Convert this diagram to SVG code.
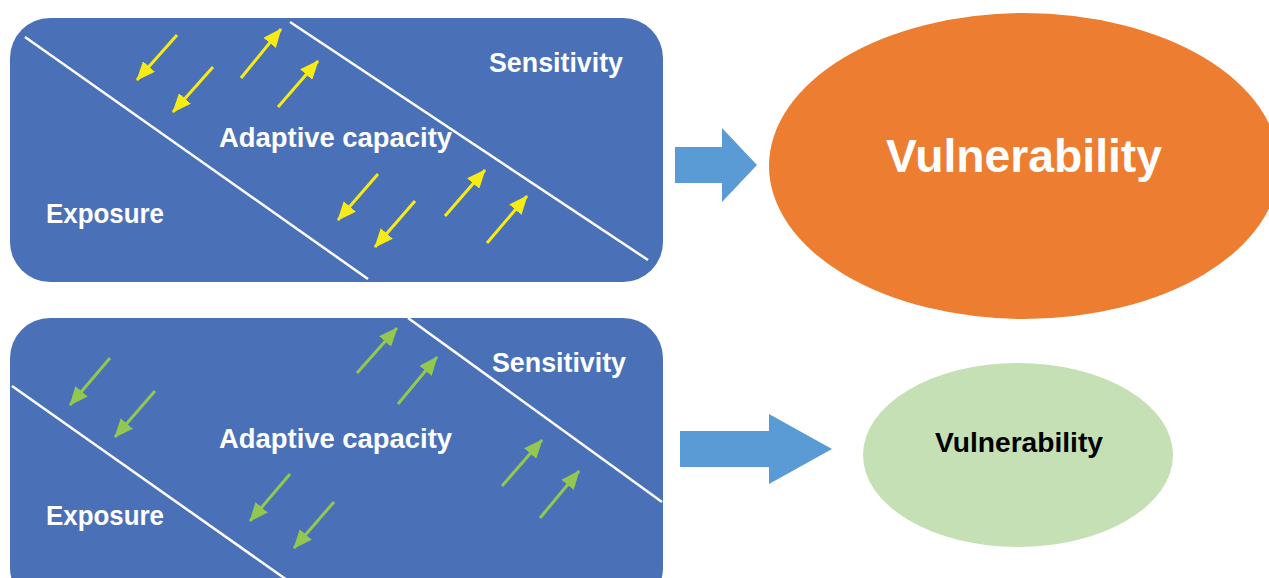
<svg xmlns="http://www.w3.org/2000/svg" width="1269" height="578" viewBox="0 0 1269 578">
<style>
.box{fill:#4A71B8}
.div{stroke:#FFFFFF;stroke-width:2.5;fill:none}
.ya{stroke:#F7EB15;stroke-width:3;marker-end:url(#hy)}
.ga{stroke:#92C84F;stroke-width:3;marker-end:url(#hg)}
.lbl{font-family:"Liberation Sans",Arial,sans-serif;font-weight:bold;fill:#FFFFFF;font-size:27px}
.big{font-family:"Liberation Sans",Arial,sans-serif;font-weight:bold}
.blk{fill:#5B9BD5}
</style>
<defs>
<marker id="hy" markerUnits="userSpaceOnUse" markerWidth="20" markerHeight="16" refX="18" refY="8" orient="auto" viewBox="0 0 20 16">
<path d="M0,0 L19,8 L0,16 z" fill="#F7EB15"/>
</marker>
<marker id="hg" markerUnits="userSpaceOnUse" markerWidth="20" markerHeight="16" refX="18" refY="8" orient="auto" viewBox="0 0 20 16">
<path d="M0,0 L19,8 L0,16 z" fill="#92C84F"/>
</marker>
</defs>

<g id="top-box">
<rect class="box" x="10" y="18" width="653" height="264" rx="40" ry="40"/>
<line class="div" x1="25" y1="37" x2="368" y2="279"/>
<line class="div" x1="290" y1="22" x2="648" y2="260"/>
<text class="lbl" x="489" y="72" textLength="134" lengthAdjust="spacingAndGlyphs">Sensitivity</text>
<text class="lbl" x="219" y="147" textLength="233" lengthAdjust="spacingAndGlyphs">Adaptive capacity</text>
<text class="lbl" x="46" y="223" textLength="118" lengthAdjust="spacingAndGlyphs">Exposure</text>
<line class="ya" x1="177" y1="35" x2="137" y2="80"/>
<line class="ya" x1="213" y1="67" x2="173" y2="112"/>
<line class="ya" x1="241" y1="78" x2="281" y2="29"/>
<line class="ya" x1="278" y1="107" x2="318" y2="61"/>
<line class="ya" x1="378" y1="174" x2="338" y2="220"/>
<line class="ya" x1="415" y1="201" x2="375" y2="247"/>
<line class="ya" x1="445" y1="216" x2="485" y2="170"/>
<line class="ya" x1="487" y1="243" x2="527" y2="196"/>
</g>

<g id="bottom-box">
<rect class="box" x="10" y="318" width="653" height="290" rx="40" ry="40"/>
<line class="div" x1="12" y1="386" x2="287" y2="580"/>
<line class="div" x1="408" y1="318" x2="662" y2="502"/>
<text class="lbl" x="492" y="372" textLength="134" lengthAdjust="spacingAndGlyphs">Sensitivity</text>
<text class="lbl" x="219" y="448" textLength="233" lengthAdjust="spacingAndGlyphs">Adaptive capacity</text>
<text class="lbl" x="46" y="525" textLength="118" lengthAdjust="spacingAndGlyphs">Exposure</text>
<line class="ga" x1="110" y1="358" x2="70" y2="405"/>
<line class="ga" x1="155" y1="391" x2="115" y2="437"/>
<line class="ga" x1="357" y1="373" x2="397" y2="328"/>
<line class="ga" x1="398" y1="404" x2="437" y2="357"/>
<line class="ga" x1="290" y1="474" x2="250" y2="521"/>
<line class="ga" x1="334" y1="502" x2="294" y2="548"/>
<line class="ga" x1="502" y1="486" x2="542" y2="440"/>
<line class="ga" x1="540" y1="518" x2="579" y2="471"/>
</g>

<g id="connectors">
<path class="blk" d="M675,147 L722,147 L722,128 L757,165 L722,202 L722,183 L675,183 z"/>
<path class="blk" d="M680,431 L769,431 L769,414 L832,449 L769,484 L769,467 L680,467 z"/>
</g>

<g id="vuln-high">
<ellipse cx="1024" cy="166" rx="255" ry="153" fill="#ED7D31"/>
<text class="big" x="1024" y="172" text-anchor="middle" font-size="46" fill="#FFFFFF" textLength="276" lengthAdjust="spacingAndGlyphs">Vulnerability</text>
</g>

<g id="vuln-low">
<ellipse cx="1018" cy="455" rx="155" ry="92" fill="#C5E0B4"/>
<text class="big" x="1019" y="452" text-anchor="middle" font-size="28" fill="#000000" textLength="168" lengthAdjust="spacingAndGlyphs">Vulnerability</text>
</g>
</svg>
